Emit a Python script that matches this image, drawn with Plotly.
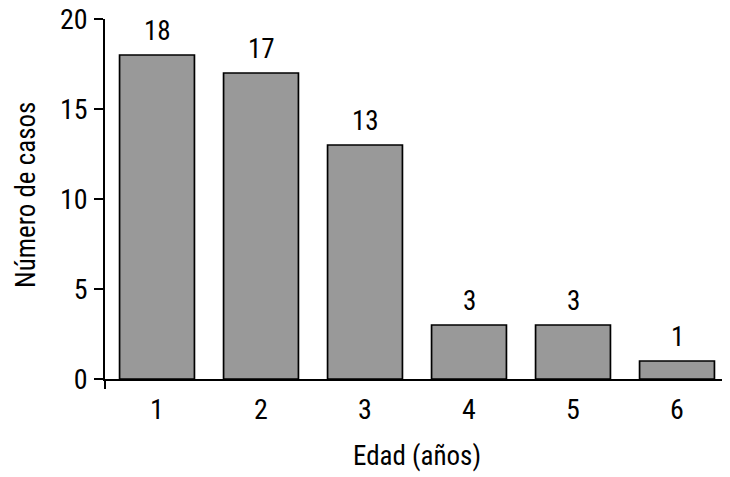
import plotly.graph_objects as go

edad = [1, 2, 3, 4, 5, 6]
edad_labels = ["1", "2", "3", "4", "5", "6"]
casos = [18, 17, 13, 3, 3, 1]
y_ticks = [0, 5, 10, 15, 20]
y_title = "Número de casos"
x_title = "Edad (años)"

FONT = "Roboto Condensed, Liberation Sans Narrow, DejaVu Sans Condensed, sans-serif"

fig = go.Figure()
fig.add_trace(go.Bar(
    x=edad, y=casos, width=0.72,
    marker=dict(color="#999999", line=dict(color="black", width=1.7)),
    showlegend=False, hoverinfo="skip",
))
# invisible helper trace for the overlay axis carrying the end ticks
fig.add_trace(go.Scatter(x=[edad[0]], y=[0], xaxis="x2", mode="markers",
                         marker=dict(opacity=0), showlegend=False, hoverinfo="skip"))

for xv, yv in zip(edad, casos):
    fig.add_annotation(x=xv, y=yv, text=str(yv), showarrow=False,
                       yanchor="bottom", yshift=6,
                       font=dict(family=FONT, size=27, color="black"))

# y-axis title placed as rotated annotation
fig.add_annotation(xref="paper", yref="paper", x=0, y=0.5, xshift=-79, yshift=4,
                   text=y_title, textangle=-90, showarrow=False,
                   xanchor="center", yanchor="middle",
                   font=dict(family=FONT, size=27, color="black"))

fig.update_layout(
    width=722, height=469,
    margin=dict(l=97, r=1, t=11, b=98),
    plot_bgcolor="white", paper_bgcolor="white",
    font=dict(family=FONT, size=27, color="black"),
    xaxis=dict(
        range=[0.5, 6.5], tickvals=edad, ticktext=edad_labels,
        ticks="", showline=True, linecolor="black", linewidth=1.6,
        showgrid=False, zeroline=False, tickfont=dict(size=28),
        ticklabelstandoff=5, automargin=False, ticklabeloverflow="allow",
        title=dict(text=x_title, font=dict(size=27), standoff=21),
    ),
    xaxis2=dict(
        range=[0.5, 6.5], overlaying="x", side="bottom", anchor="y",
        tickvals=[0.5, 6.5], ticks="outside", ticklen=9, tickwidth=1.6,
        tickcolor="black", showticklabels=False, showline=False,
        showgrid=False, zeroline=False, automargin=False,
    ),
    yaxis=dict(
        range=[0, 20], tickvals=y_ticks, ticks="outside", ticklen=9,
        tickwidth=1.6, tickcolor="black", showline=True, linecolor="black",
        linewidth=1.6, showgrid=False, zeroline=False,
        tickfont=dict(size=28), ticklabelstandoff=1, automargin=False,
        ticklabeloverflow="allow",
    ),
)

fig.write_html("out.html")
